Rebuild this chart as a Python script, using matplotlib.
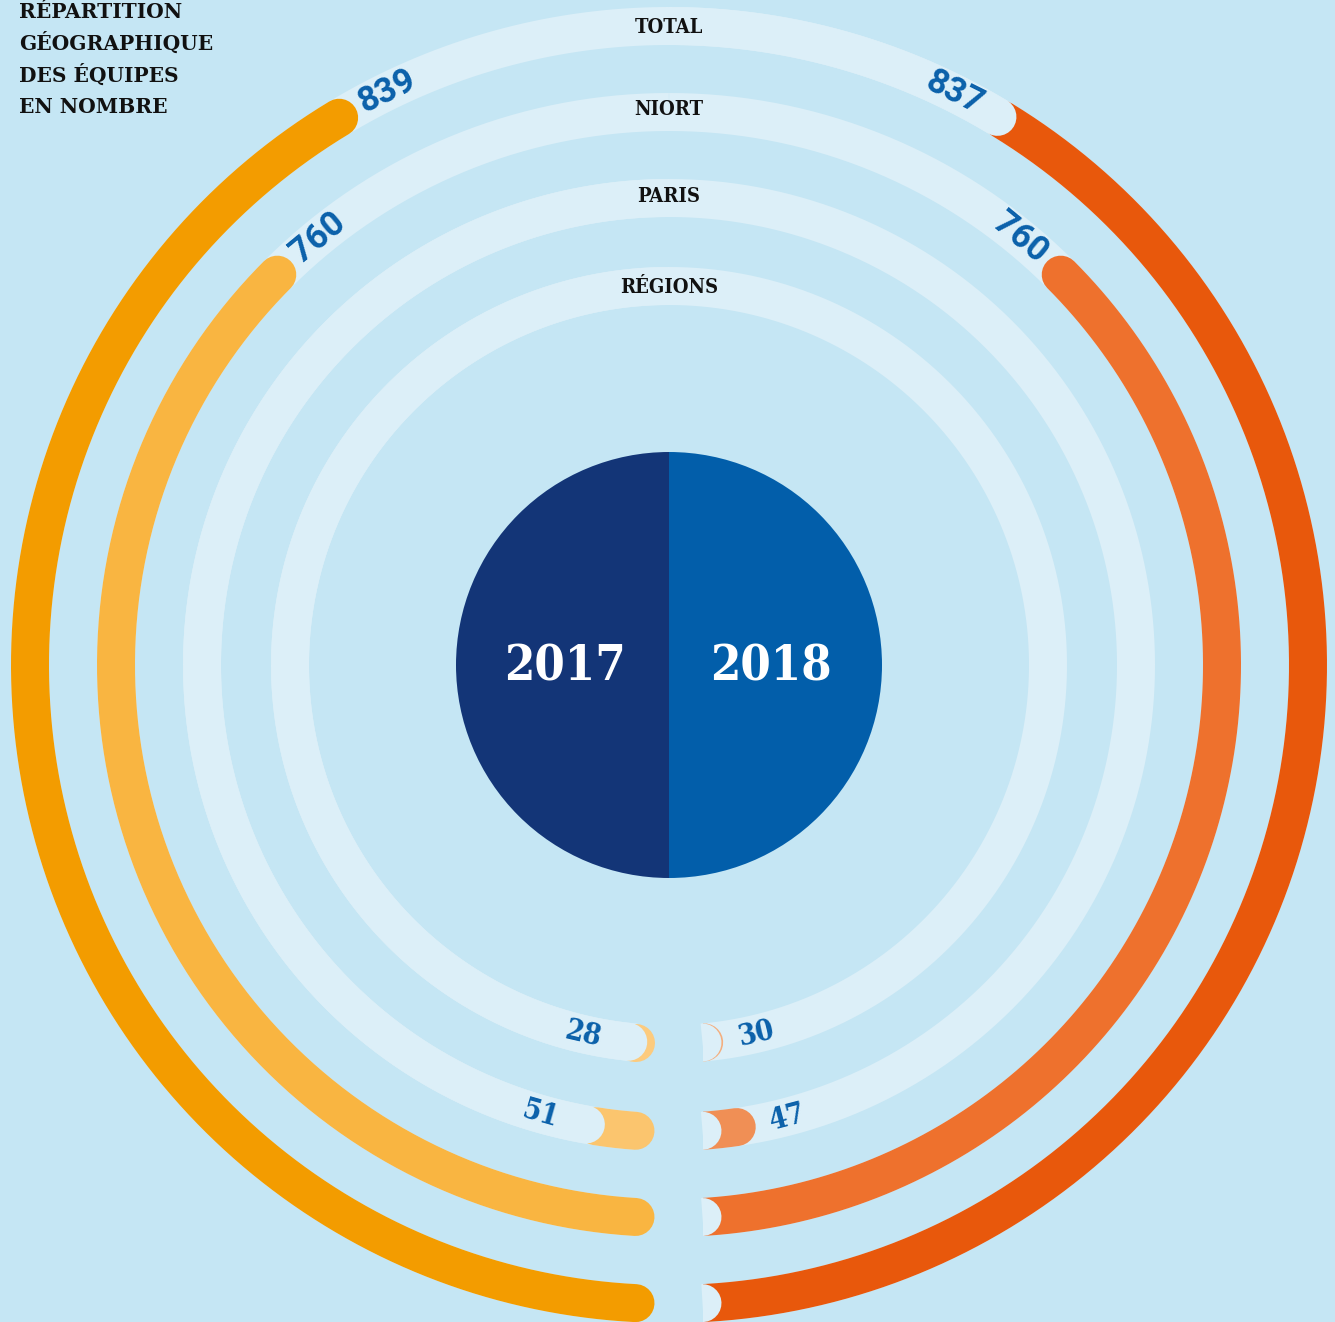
import numpy as np
import matplotlib.pyplot as plt
import matplotlib.patches as mpatches

# data
rings = ["TOTAL", "NIORT", "PARIS", "RÉGIONS"]
values_2017 = [839, 760, 51, 28]
values_2018 = [837, 760, 47, 30]
years = ["2017", "2018"]
title_lines = ["RÉPARTITION", "GÉOGRAPHIQUE", "DES ÉQUIPES", "EN NOMBRE"]

# colours
BG = "#C5E6F4"
TRACK = "#DCEFF8"
LABEL_BLUE = "#0A60AA"
colors_2017 = ["#F39C00", "#F9B541", "#FBC56E", "#FCCB7E"]
colors_2018 = ["#E8580C", "#EE712D", "#F08F55", "#F4AE7E"]
PIE_2017 = "#133577"
PIE_2018 = "#025EAA"

# geometry (pixels, centre of the rings at origin)
W, H = 1335, 1322
CX, CY = 669, 665
radii = [639, 553, 467, 379]
BAND = 38
DEG_PER_UNIT = 0.1775
GAP = 33.5
PIE_R = 213

fig = plt.figure(figsize=(W / 100, H / 100), dpi=100)
fig.patch.set_facecolor(BG)
ax = fig.add_axes([0, 0, 1, 1])
ax.set_xlim(-CX, W - CX)
ax.set_ylim(-(H - CY), CY)
ax.axis("off")

lw = BAND * 72 / 100


def arc(r, a0, a1, side, n=400):
    t = np.radians(np.linspace(a0, a1, n))
    return side * r * np.sin(t), -r * np.cos(t)


def draw(r, a0, a1, side, color, cap="round", z=2, clip=None):
    x, y = arc(r, a0, a1, side)
    ln, = ax.plot(x, y, color=color, lw=lw, solid_capstyle=cap, zorder=z)
    if clip is not None:
        ln.set_clip_path(clip)
    return ln


right_clip = mpatches.Rectangle((GAP, -H), W, 2 * H, transform=ax.transData)
left_clip = mpatches.Rectangle((-W, -H), W - 14, 2 * H, transform=ax.transData)


def value_label(r, ang, side, text, big):
    t = np.radians(ang)
    x, y = side * r * np.sin(t), -r * np.cos(t)
    rot = side * ang
    if rot <= -90:
        rot += 180
    if rot > 90:
        rot -= 180
    if big:
        ax.text(x, y, text, color=LABEL_BLUE, fontsize=25, fontweight="bold",
                family="Roboto", rotation=rot, rotation_mode="anchor",
                ha="center", va="center", zorder=6)
    else:
        ax.text(x, y, text, color=LABEL_BLUE, fontsize=21, fontweight="bold",
                family="DejaVu Serif", fontstretch="condensed", rotation=rot,
                rotation_mode="anchor", ha="center", va="center", zorder=6)


for i, name in enumerate(rings):
    r = radii[i]
    s = np.degrees(np.arcsin(GAP / r))
    lab_deg = np.degrees(55 / r)

    # 2017 (left half)
    v = values_2017[i]
    e = v * DEG_PER_UNIT
    draw(r, s, 180, -1, TRACK, cap="butt", z=1)
    draw(r, s, max(e, s + 0.01), -1, colors_2017[i], z=2, clip=left_clip)
    if v < 100:
        # the track end sits over the short bars
        draw(r, e + 1.2, 180, -1, TRACK, cap="round", z=3)
        value_label(r, e + 1.2 + np.degrees(46 / r), -1, str(v), False)
    else:
        value_label(r, e + lab_deg, -1, str(v), True)

    # 2018 (right half)
    v = values_2018[i]
    e = v * DEG_PER_UNIT
    draw(r, s, 180, 1, TRACK, cap="butt", z=1)
    draw(r, 0, e, 1, colors_2018[i], z=2, clip=right_clip)
    draw(r, 0, s, 1, TRACK, z=3, clip=right_clip)
    if i == 0:
        draw(r, e + 0.5, 180, 1, TRACK, cap="round", z=3)
    small = v < 100
    value_label(r, e + np.degrees((52 if small else 55) / r), 1, str(v), not small)

# ring names
name_base = [33, 115, 202, 293]
for name, yb in zip(rings, name_base):
    ax.text(0, CY - yb, name, ha="center", va="baseline", fontsize=14.5,
            fontweight="bold", family="DejaVu Serif", fontstretch="condensed",
            color="#111111", zorder=6)

# centre disc
ax.add_patch(mpatches.Wedge((0, 0), PIE_R, 90, 270, color=PIE_2017, zorder=4, lw=0))
ax.add_patch(mpatches.Wedge((0, 0), PIE_R, -90, 90, color=PIE_2018, zorder=4, lw=0))
for yr, xc in zip(years, [-104, 102]):
    ax.text(xc, -2, yr, ha="center", va="center", fontsize=35, fontweight="bold",
            family="DejaVu Serif", fontstretch="condensed", color="white", zorder=5)

# title
for k, line in enumerate(title_lines):
    ax.text(19 - CX, CY - (18 + 31.7 * k), line, ha="left", va="baseline",
            fontsize=14.5, fontweight="bold", family="DejaVu Serif",
            color="#111111", zorder=6)

fig.savefig("out.png", dpi=100, facecolor=BG)
